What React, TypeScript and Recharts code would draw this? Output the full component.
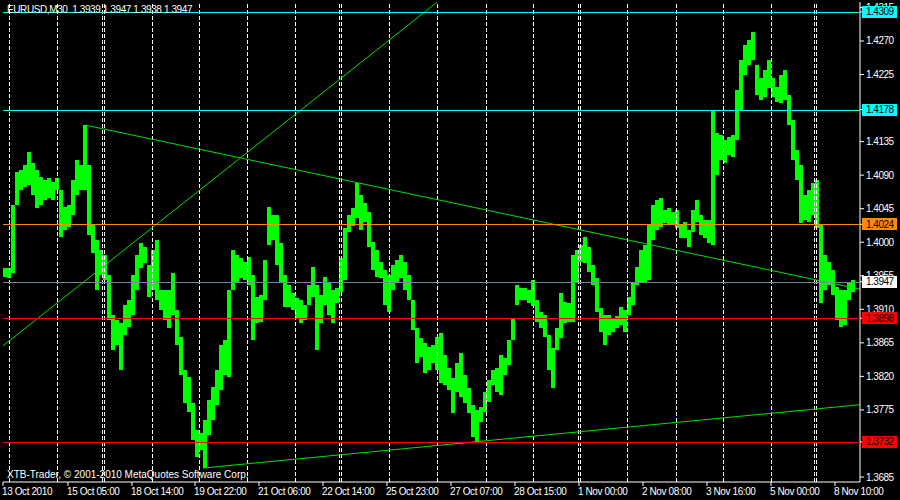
import { ComposedChart, Bar, XAxis, YAxis, ReferenceLine } from 'recharts';

// EURUSD M30, each entry = one 2-hour block (4 x 30 min bars), high / low
const highs = [
  1.3966, 1.3966, 1.4050, 1.4094, 1.4097, 1.4104, 1.4121, 1.4106, 1.4097, 1.4088,
  1.4084, 1.4086, 1.4081, 1.4086, 1.4070, 1.4047, 1.4050, 1.4084, 1.4110, 1.4104,
  1.4157, 1.4104, 1.4023, 1.4003, 1.3990, 1.3983, 1.3956, 1.3902, 1.3896, 1.3892,
  1.3916, 1.3923, 1.3956, 1.3983, 1.3999, 1.3994, 1.3970, 1.3990, 1.4003, 1.3936,
  1.3936, 1.3936, 1.3959, 1.3909, 1.3873, 1.3829, 1.3819, 1.3784, 1.3748, 1.3744,
  1.3762, 1.3788, 1.3806, 1.3829, 1.3862, 1.3869, 1.3936, 1.3990, 1.3983, 1.3979,
  1.3974, 1.3980, 1.3956, 1.3927, 1.3929, 1.3976, 1.4047, 1.4037, 1.4037, 1.3999,
  1.3956, 1.3943, 1.3932, 1.3925, 1.3923, 1.3916, 1.3943, 1.3967, 1.3943, 1.3929,
  1.3953, 1.3945, 1.3936, 1.3939, 1.3979, 1.4019, 1.4037, 1.4046, 1.4080, 1.4063,
  1.4053, 1.4041, 1.4000, 1.3990, 1.3974, 1.3963, 1.3956, 1.3970, 1.3976, 1.3983,
  1.3974, 1.3956, 1.3923, 1.3885, 1.3872, 1.3865, 1.3859, 1.3862, 1.3873, 1.3878,
  1.3849, 1.3831, 1.3818, 1.3838, 1.3851, 1.3822, 1.3804, 1.3782, 1.3775, 1.3779,
  1.3799, 1.3815, 1.3829, 1.3831, 1.3849, 1.3845, 1.3869, 1.3898, 1.3943, 1.3939,
  1.3939, 1.3936, 1.3949, 1.3923, 1.3906, 1.3902, 1.3876, 1.3858, 1.3885, 1.3932,
  1.3920, 1.3918, 1.3983, 1.3990, 1.3996, 1.4007, 1.3993, 1.3970, 1.3952, 1.3912,
  1.3902, 1.3902, 1.3898, 1.3901, 1.3913, 1.3909, 1.3927, 1.3945, 1.3967, 1.3990,
  1.3996, 1.4023, 1.4050, 1.4057, 1.4059, 1.4043, 1.4046, 1.4041, 1.4043, 1.4023,
  1.4027, 1.4016, 1.4043, 1.4057, 1.4037, 1.4030, 1.4030, 1.4177, 1.4147, 1.4144,
  1.4137, 1.4141, 1.4144, 1.4204, 1.4245, 1.4265, 1.4271, 1.4282, 1.4238, 1.4220,
  1.4231, 1.4245, 1.4220, 1.4208, 1.4224, 1.4231, 1.4198, 1.4164, 1.4124, 1.4104,
  1.4063, 1.4070, 1.4080, 1.4084, 1.4023, 1.3983, 1.3974, 1.3963, 1.3940, 1.3936,
  1.3936, 1.3945, 1.3949,
];

const lows = [
  1.3953, 1.3952, 1.3959, 1.4050, 1.4070, 1.4074, 1.4077, 1.4063, 1.4046, 1.4050,
  1.4057, 1.4059, 1.4057, 1.4070, 1.4007, 1.4016, 1.4020, 1.4037, 1.4063, 1.4070,
  1.4070, 1.4010, 1.3986, 1.3936, 1.3956, 1.3949, 1.3896, 1.3855, 1.3862, 1.3829,
  1.3876, 1.3886, 1.3902, 1.3936, 1.3966, 1.3972, 1.3927, 1.3936, 1.3923, 1.3909,
  1.3896, 1.3885, 1.3902, 1.3862, 1.3822, 1.3784, 1.3772, 1.3735, 1.3712, 1.3721,
  1.3697, 1.3741, 1.3762, 1.3782, 1.3802, 1.3822, 1.3819, 1.3936, 1.3945, 1.3952,
  1.3949, 1.3943, 1.3869, 1.3892, 1.3893, 1.3923, 1.3996, 1.4003, 1.3970, 1.3945,
  1.3913, 1.3913, 1.3909, 1.3898, 1.3892, 1.3896, 1.3916, 1.3927, 1.3855, 1.3892,
  1.3916, 1.3902, 1.3892, 1.3918, 1.3933, 1.3949, 1.4014, 1.4022, 1.4033, 1.4016,
  1.4027, 1.3993, 1.3963, 1.3953, 1.3952, 1.3916, 1.3906, 1.3936, 1.3945, 1.3952,
  1.3936, 1.3923, 1.3882, 1.3838, 1.3846, 1.3825, 1.3829, 1.3838, 1.3829, 1.3811,
  1.3809, 1.3802, 1.3771, 1.3799, 1.3792, 1.3784, 1.3771, 1.3739, 1.3731, 1.3759,
  1.3772, 1.3786, 1.3809, 1.3799, 1.3795, 1.3822, 1.3835, 1.3869, 1.3916, 1.3923,
  1.3923, 1.3918, 1.3914, 1.3893, 1.3885, 1.3873, 1.3829, 1.3804, 1.3855, 1.3872,
  1.3892, 1.3893, 1.3893, 1.3947, 1.3974, 1.3972, 1.3960, 1.3943, 1.3906, 1.3880,
  1.3862, 1.3876, 1.3880, 1.3885, 1.3889, 1.3880, 1.3902, 1.3916, 1.3943, 1.3947,
  1.3945, 1.3949, 1.4003, 1.4016, 1.4020, 1.4026, 1.4025, 1.4023, 1.4019, 1.4006,
  1.4006, 1.3994, 1.4014, 1.4027, 1.4010, 1.4006, 1.3999, 1.3996, 1.4090, 1.4110,
  1.4106, 1.4117, 1.4114, 1.4137, 1.4177, 1.4224, 1.4238, 1.4245, 1.4198, 1.4191,
  1.4195, 1.4207, 1.4195, 1.4188, 1.4187, 1.4191, 1.4157, 1.4110, 1.4084, 1.4026,
  1.4030, 1.4027, 1.4037, 1.4019, 1.3919, 1.3936, 1.3943, 1.3929, 1.3896, 1.3886,
  1.3889, 1.3923, 1.3933,
];

// time axis is counted in 30 min bars from the first bar
const dateTicks = [0, 65, 129, 192, 256, 320, 384, 448, 512, 576, 640, 704, 768, 832];
const dateLabels = [
  '13 Oct 2010', '15 Oct 05:00', '18 Oct 14:00', '19 Oct 22:00', '21 Oct 06:00',
  '22 Oct 14:00', '25 Oct 23:00', '27 Oct 07:00', '28 Oct 15:00', '1 Nov 00:00',
  '2 Nov 08:00', '3 Nov 16:00', '5 Nov 00:00', '8 Nov 10:00',
];
const gridTimes = [6, 54, 99, 101, 149, 196, 244, 292, 336, 338, 386, 434, 483, 530, 575, 577, 624, 673, 720, 768, 811, 813];

// 1.4180 and 1.3730 sit fully under the level tags, so they are not drawn
const priceTicks = [
  1.3685, 1.3775, 1.382, 1.3865, 1.391, 1.3955, 1.4, 1.4045,
  1.409, 1.4135, 1.4225, 1.427, 1.4315,
];

// horizontal levels and their colours
const levels = [1.4309, 1.4178, 1.4024, 1.3947, 1.3898, 1.3732];
const levelColors = ['#00ffff', '#00ffff', '#ff8c00', '#778899', '#ff0000', '#ff0000'];
const levelTagColors = ['#00ffff', '#00ffff', '#ff8c00', '#ffffff', '#ff0000', '#ff0000'];

// trend lines: [time, price] -> [time, price]
const trendFrom = [[0, 1.3861], [83, 1.4157], [200, 1.3697]];
const trendTo = [[450, 1.4339], [857, 1.3937], [857, 1.3782]];

const FONT = '"Liberation Sans", Arial, sans-serif';
const Y_DOMAIN = [1.36783, 1.43223];
const PLOT_LEFT = 3;

const data = highs.map((h, i) => ({ t: i * 4 + 2, range: [lows[i], h] }));

const DateTick = ({ x, y, payload }: any) => (
  <text x={x - 1} y={y + 7} fill="#fff" fontSize={10} fontFamily={FONT} letterSpacing={-0.4}>
    {dateLabels[dateTicks.indexOf(payload.value)]}
  </text>
);

// price labels; the level values come last so their line and tag sit on top
const PriceTick = ({ x, y, payload }: any) => {
  const i = levels.indexOf(payload.value);
  if (i < 0) {
    return (
      <text x={x} y={y + 3.5} fill="#fff" fontSize={10} fontFamily={FONT} letterSpacing={-0.5}>
        {payload.value.toFixed(4)}
      </text>
    );
  }
  const yy = Math.round(y) + 0.5;
  return (
    <g>
      <line x1={PLOT_LEFT} x2={x - 6} y1={yy} y2={yy} stroke={levelColors[i]} strokeWidth={1} />
      <rect x={x - 4} y={Math.round(y) - 6} width={35} height={12} fill={levelTagColors[i]} />
      <text x={x} y={y + 3.5} fill="#000" fontSize={10} fontFamily={FONT} letterSpacing={-0.5}>
        {payload.value.toFixed(4)}
      </text>
    </g>
  );
};

export default function App() {
  return (
    <div style={{ position: 'fixed', left: 0, top: 0, width: 900, height: 500, background: '#000' }}>
      <ComposedChart width={900} height={500} data={data} margin={{ top: 2, right: 0, bottom: 0, left: PLOT_LEFT }}>
        <XAxis
          type="number"
          dataKey="t"
          domain={[0, 857]}
          allowDataOverflow
          ticks={dateTicks}
          interval={0}
          height={18}
          tickSize={4}
          axisLine={{ stroke: '#fff' }}
          tickLine={{ stroke: '#fff' }}
          tick={<DateTick />}
        />
        <XAxis xAxisId="top" orientation="top" type="number" dataKey="t" domain={[0, 857]} height={0} tick={false} tickLine={false} axisLine={{ stroke: '#fff' }} />
        <YAxis
          orientation="right"
          type="number"
          domain={Y_DOMAIN}
          allowDataOverflow
          ticks={[...priceTicks, ...levels]}
          interval={0}
          width={40}
          tickSize={4}
          axisLine={{ stroke: '#fff' }}
          tickLine={{ stroke: '#fff' }}
          tick={<PriceTick />}
        />
        <YAxis yAxisId="left" orientation="left" type="number" domain={Y_DOMAIN} width={0} tick={false} tickLine={false} axisLine={{ stroke: '#fff' }} />

        {gridTimes.map((t) => (
          <ReferenceLine key={'g' + t} x={t} stroke="#fff" strokeDasharray="4 2" shapeRendering="crispEdges" />
        ))}

        <Bar dataKey="range" fill="#00ff00" barSize={4} isAnimationActive={false} shapeRendering="crispEdges" />

        {trendFrom.map((p, i) => (
          <ReferenceLine
            key={'tr' + i}
            segment={[{ x: p[0], y: p[1] }, { x: trendTo[i][0], y: trendTo[i][1] }]}
            stroke="#00e000"
            strokeWidth={1}
            ifOverflow="hidden"
          />
        ))}
      </ComposedChart>
      <svg width={900} height={500} style={{ position: 'absolute', left: 0, top: 0, pointerEvents: 'none' }}>
        <text x={7} y={13} fill="#fff" fontSize={10} fontFamily={FONT} letterSpacing={-0.4} style={{ whiteSpace: 'pre' }}>
          {'EURUSD,M30  1.3939 1.3947 1.3938 1.3947'}
        </text>
        <text x={7} y={478} fill="#fff" fontSize={10} fontFamily={FONT}>
          XTB-Trader, © 2001-2010 MetaQuotes Software Corp.
        </text>
      </svg>
    </div>
  );
}
